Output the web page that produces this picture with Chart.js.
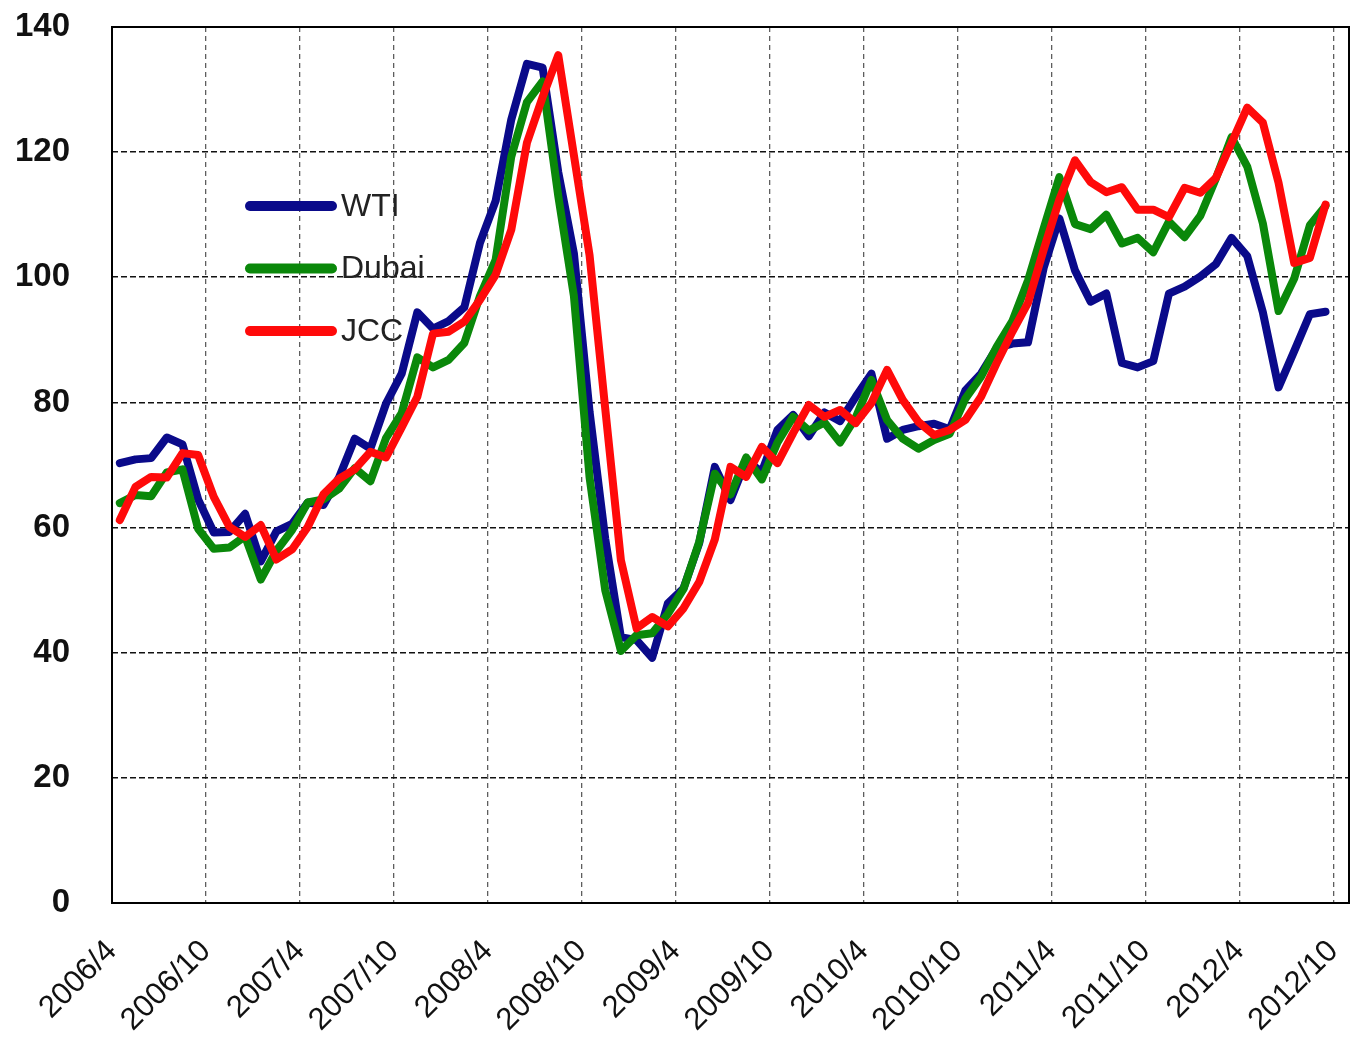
<!DOCTYPE html>
<html>
<head>
<meta charset="utf-8">
<script src="https://cdn.jsdelivr.net/npm/chart.js@4/dist/chart.umd.min.js"></script>
<style>
  html, body { margin: 0; padding: 0; background: #fff; }
  #wrap { width: 1352px; height: 1039px; }
</style>
</head>
<body>
<div id="wrap"><canvas id="c" width="1352" height="1039"></canvas></div>
<script>
const months = [
  '2006/4','2006/5','2006/6','2006/7','2006/8','2006/9','2006/10','2006/11','2006/12',
  '2007/1','2007/2','2007/3','2007/4','2007/5','2007/6','2007/7','2007/8','2007/9','2007/10','2007/11','2007/12',
  '2008/1','2008/2','2008/3','2008/4','2008/5','2008/6','2008/7','2008/8','2008/9','2008/10','2008/11','2008/12',
  '2009/1','2009/2','2009/3','2009/4','2009/5','2009/6','2009/7','2009/8','2009/9','2009/10','2009/11','2009/12',
  '2010/1','2010/2','2010/3','2010/4','2010/5','2010/6','2010/7','2010/8','2010/9','2010/10','2010/11','2010/12',
  '2011/1','2011/2','2011/3','2011/4','2011/5','2011/6','2011/7','2011/8','2011/9','2011/10','2011/11','2011/12',
  '2012/1','2012/2','2012/3','2012/4','2012/5','2012/6','2012/7','2012/8','2012/9'
];

const wti = [
  70.3, 70.9, 71.1, 74.4, 73.3, 64.5, 59.2, 59.3, 62.2, 54.6, 59.4, 60.6,
  64.0, 63.6, 68.0, 74.2, 72.6, 79.8, 84.6, 94.4, 91.8, 93.0, 95.2, 105.5,
  112.2, 125.2, 134.1, 133.5, 116.8, 103.8, 78.5, 58.2, 42.5, 42.0, 39.2, 47.9,
  50.3, 57.5, 69.7, 64.4, 70.7, 68.9, 75.6, 78.0, 74.6, 78.4, 77.0, 80.9,
  84.6, 74.2, 75.6, 76.2, 76.6, 75.7, 81.9, 84.6, 88.7, 89.4, 89.6, 101.5,
  109.4, 101.1, 96.1, 97.4, 86.3, 85.6, 86.6, 97.4, 98.5, 100.1, 102.1, 106.3,
  103.4, 94.4, 82.4, 88.2, 94.1, 94.5
];

const dubai = [
  63.9, 65.2, 65.0, 68.8, 69.3, 59.8, 56.6, 56.8, 58.6, 51.7, 56.3, 59.6,
  64.0, 64.5, 66.2, 69.5, 67.4, 74.3, 78.3, 87.2, 85.6, 86.8, 89.5, 97.0,
  102.8, 119.3, 128.0, 131.3, 113.0, 97.0, 68.0, 50.0, 40.3, 42.8, 43.1, 46.2,
  50.2, 57.7, 68.6, 65.3, 71.2, 67.7, 73.6, 77.7, 75.5, 76.8, 73.6, 77.6,
  83.6, 77.2, 74.2, 72.6, 74.0, 75.0, 80.6, 84.1, 88.9, 93.0, 99.5, 107.8,
  116.0, 108.5, 107.7, 110.0, 105.4, 106.3, 104.0, 108.9, 106.4, 109.8, 115.8, 122.4,
  117.7, 108.6, 94.6, 99.8, 108.3, 111.4
];

const jcc = [
  61.2, 66.5, 68.1, 68.0, 71.9, 71.6, 64.9, 60.1, 58.5, 60.4, 54.9, 56.5,
  60.1, 65.3, 67.8, 69.3, 72.1, 71.2, 76.0, 80.9, 91.0, 91.3, 92.9, 96.4,
  100.4, 107.6, 121.5, 128.8, 135.5, 119.5, 103.5, 79.0, 54.8, 43.9, 45.7, 44.2,
  47.1, 51.3, 58.1, 69.7, 68.1, 72.9, 70.3, 75.1, 79.6, 77.7, 78.8, 76.7,
  79.9, 85.2, 80.4, 76.9, 74.8, 75.6, 77.2, 80.9, 86.3, 91.3, 95.9, 104.4,
  112.4, 118.7, 115.2, 113.6, 114.4, 110.8, 110.8, 109.6, 114.3, 113.5, 115.9, 121.5,
  127.1, 124.7, 115.1, 102.3, 103.1, 111.6
];

const tickLabels = ['2006/4','2006/10','2007/4','2007/10','2008/4','2008/10','2009/4',
                    '2009/10','2010/4','2010/10','2011/4','2011/10','2012/4','2012/10'];
const yTicks = [0, 20, 40, 60, 80, 100, 120, 140];

const seriesNames = ['WTI', 'Dubai', 'JCC'];
const seriesColors = ['#0a0a8a', '#0a880a', '#ff0a0a'];

// month label -> position on the month axis (months since 2006/4, centred in its month)
function monthPos(label) {
  const [y, m] = label.split('/').map(Number);
  return (y - 2006) * 12 + (m - 4) + 0.5;
}
function tickPos(label) {
  const [y, m] = label.split('/').map(Number);
  return (y - 2006) * 12 + (m - 4);
}

function toPoints(values) {
  return values.map((v, i) => ({ x: monthPos(months[i]), y: v }));
}

const seriesData = [wti, dubai, jcc];

const datasets = seriesNames.map((name, k) => ({
  label: name,
  data: toPoints(seriesData[k]),
  borderColor: seriesColors[k],
  backgroundColor: seriesColors[k],
  borderWidth: 8,
  pointRadius: 0,
  tension: 0,
  borderJoinStyle: 'round',
  borderCapStyle: 'round',
  order: 3 - k
}));

const framePlugin = {
  id: 'frame',
  beforeDatasetsDraw(chart) {
    const { ctx, chartArea: a } = chart;
    ctx.save();
    ctx.strokeStyle = '#000';
    ctx.lineWidth = 2;
    ctx.setLineDash([]);
    ctx.strokeRect(a.left, a.top, a.right - a.left, a.bottom - a.top);
    ctx.restore();

    // legend inside plot area
    ctx.save();
    const x0 = a.left + 138, x1 = a.left + 220, tx = a.left + 229;
    const y0 = a.top + 179, dy = 62.5;
    chart.data.datasets.forEach((ds, k) => {
      const y = y0 + k * dy;
      ctx.strokeStyle = ds.borderColor;
      ctx.lineWidth = 10;
      ctx.lineCap = 'round';
      ctx.beginPath();
      ctx.moveTo(x0, y);
      ctx.lineTo(x1, y);
      ctx.stroke();
      ctx.fillStyle = '#222';
      ctx.font = '32px "Liberation Sans", Arial, sans-serif';
      ctx.textBaseline = 'middle';
      ctx.textAlign = 'left';
      ctx.fillText(ds.label, tx, y + 1);
    });
    ctx.restore();
  }
};

new Chart(document.getElementById('c'), {
  type: 'line',
  data: { datasets },
  plugins: [framePlugin],
  options: {
    responsive: false,
    animation: false,
    events: [],
    layout: { padding: { top: 27, right: 3, left: 0, bottom: 0 } },
    plugins: { legend: { display: false }, tooltip: { enabled: false } },
    scales: {
      x: {
        type: 'linear',
        min: 0,
        max: 79,
        afterBuildTicks(scale) {
          scale.ticks = tickLabels.map(l => ({ value: tickPos(l) }));
        },
        afterFit(scale) {
          scale.height = 136;
          scale.paddingLeft = 0; scale.paddingRight = 0;
        },
        grid: { color: 'rgba(40,40,40,0.75)', lineWidth: 1.3, drawTicks: false },
        border: { display: false, dash: [5, 4] },
        ticks: {
          autoSkip: false,
          minRotation: 45,
          maxRotation: 45,
          padding: 30,
          color: '#111',
          font: { family: '"Liberation Sans", Arial, sans-serif', size: 31 },
          callback(value) {
            const found = tickLabels.find(l => tickPos(l) === value);
            return found || '';
          }
        }
      },
      y: {
        min: 0,
        max: 140,
        afterBuildTicks(scale) {
          scale.ticks = yTicks.map(v => ({ value: v }));
        },
        afterFit(scale) {
          scale.width = 112;
          scale.paddingTop = 0; scale.paddingBottom = 0;
        },
        grid: { color: '#111', lineWidth: 1.6, drawTicks: false },
        border: { display: false, dash: [6, 3] },
        ticks: {
          padding: 42,
          color: '#111',
          font: { family: '"Liberation Sans", Arial, sans-serif', size: 33, weight: 'bold' }
        }
      }
    }
  }
});
</script>
</body>
</html>
